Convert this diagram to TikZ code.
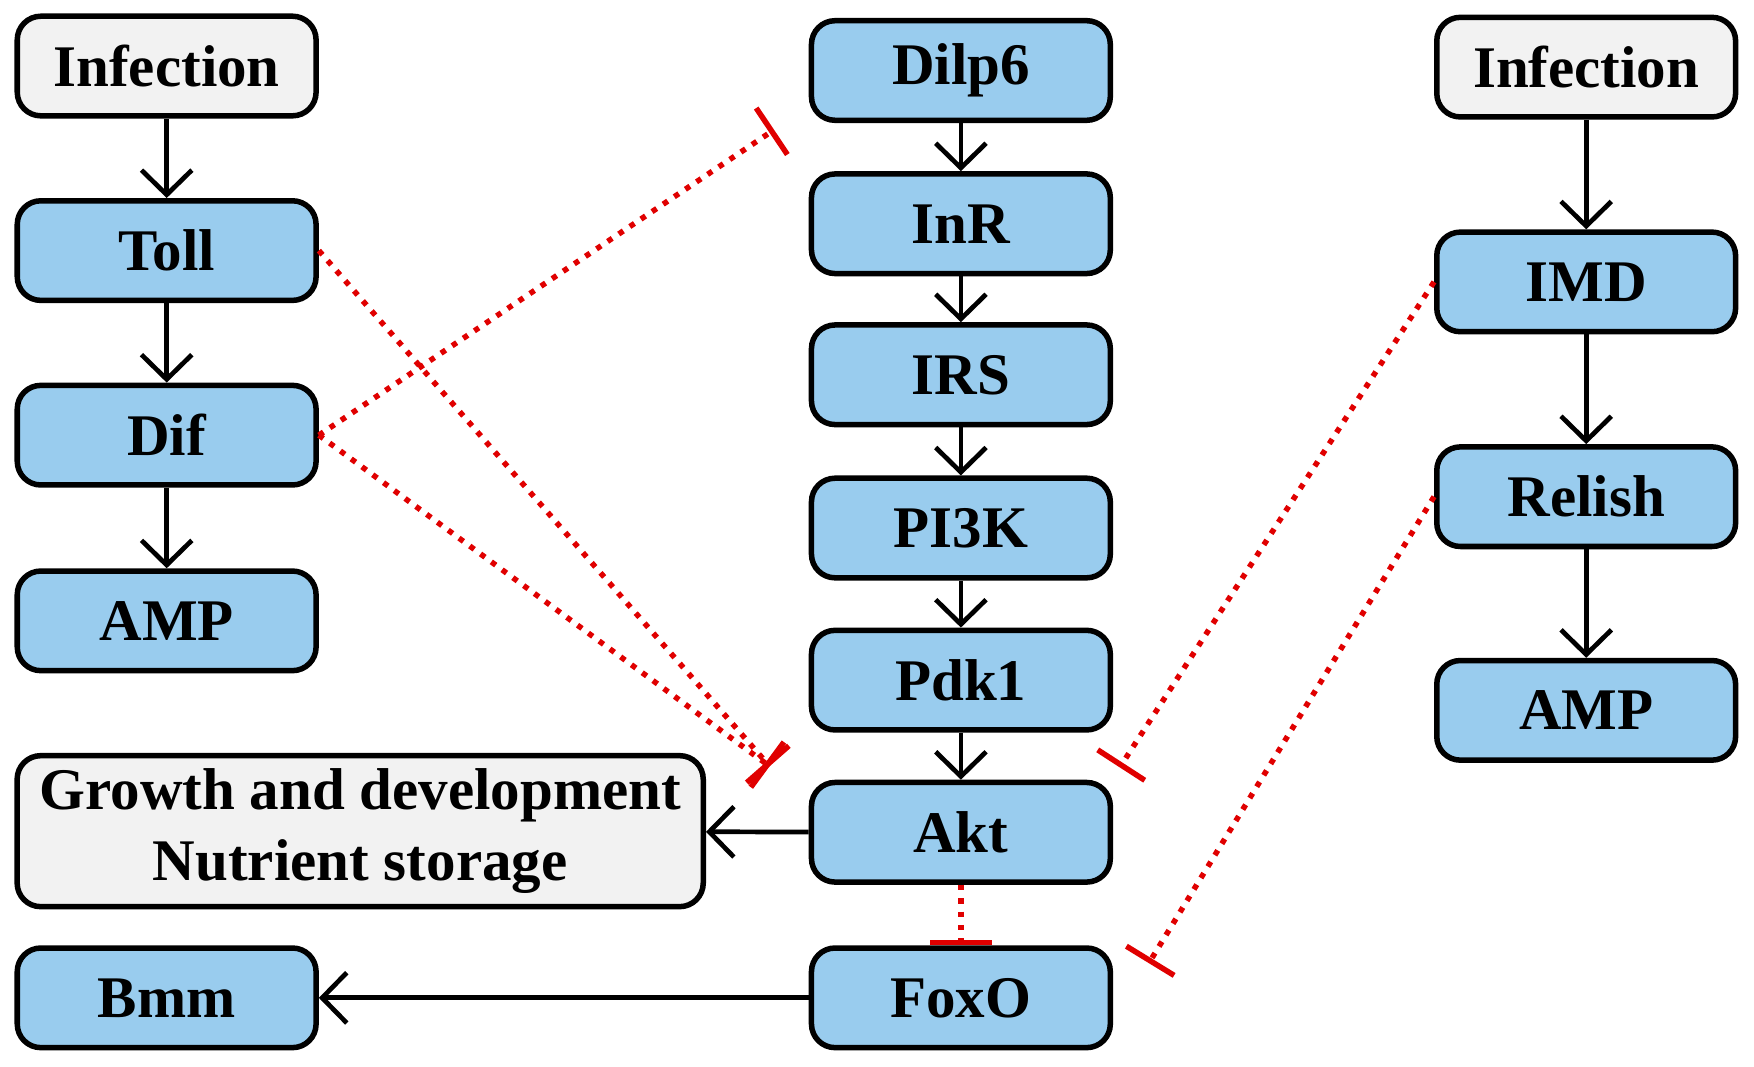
\documentclass[tikz,border=0pt]{standalone}
\usepackage{fontspec}
\setmainfont{Liberation Serif}
\usetikzlibrary{arrows.meta,positioning}
\definecolor{boxblue}{RGB}{153,204,238}
\definecolor{boxgray}{RGB}{242,242,242}
\definecolor{inhred}{RGB}{224,0,0}
\begin{document}
\begin{tikzpicture}[x=0.01cm,y=-0.01cm,
    box/.style={draw, line width=1.4pt, rounded corners=6pt, fill=boxblue,
        minimum width=2.67cm, minimum height=0.89cm, font=\bfseries\fontsize{15}{18}\selectfont, align=center},
    gbox/.style={box, fill=boxgray},
    act/.style={-{Straight Barb[length=2.2mm,width=4.5mm]}, line width=1.2pt},
    inh/.style={-{Bar[width=5mm,line width=1.4pt]}, inhred, dotted, line width=1.4pt}]
    \useasboundingbox (0,0) rectangle (1568,953);
    % left column
    \node [gbox] (inf1) at (149,59) {Infection};
    \node [box] (toll) at (149,224) {Toll};
    \node [box] (dif) at (149,389) {Dif};
    \node [box] (amp1) at (149,555) {AMP};
    % middle column
    \node [box] (dilp) at (859,63) {Dilp6};
    \node [box] (inr) at (859,200) {InR};
    \node [box] (irs) at (859,335) {IRS};
    \node [box] (pik) at (859,472) {PI3K};
    \node [box] (pdk) at (859,608) {Pdk1};
    \node [box] (akt) at (859,744) {Akt};
    \node [box] (foxo) at (859,892) {FoxO};
    % right column
    \node [gbox] (inf2) at (1418,60) {Infection};
    \node [box] (imd) at (1418,252) {IMD};
    \node [box] (rel) at (1418,444) {Relish};
    \node [box] (amp2) at (1418,635) {AMP};
    % outputs
    \node [gbox, minimum width=6.13cm, minimum height=1.26cm] (grow) at (322,743) {Growth and development\\Nutrient storage};
    \node [box] (bmm) at (149,892) {Bmm};

    \draw [act] (inf1) -- (toll);
    \draw [act] (toll) -- (dif);
    \draw [act] (dif) -- (amp1);
    \draw [act] (dilp) -- (inr);
    \draw [act] (inr) -- (irs);
    \draw [act] (irs) -- (pik);
    \draw [act] (pik) -- (pdk);
    \draw [act] (pdk) -- (akt);
    \draw [act] (inf2) -- (imd);
    \draw [act] (imd) -- (rel);
    \draw [act] (rel) -- (amp2);
    \draw [act] (akt) -- (grow);
    \draw [act] (foxo) -- (bmm);

    \coordinate (dilpbar) at (692,116);
    \coordinate (aktbar) at (688,685);
    \coordinate (imdbar) at (1001,686);
    \coordinate (foxbar) at (1027,861);
    \draw [inh] (dif.east) -- (dilpbar);
    \draw [inh] (toll.east) -- (aktbar);
    \draw [inh] (dif.east) -- (aktbar);
    \draw [inh] (imd.west) -- (imdbar);
    \draw [inh] (rel.west) -- (foxbar);
    \draw [inh, -{Bar[width=5.5mm,line width=1.4pt]}] (akt.south) -- (foxo.north);
\end{tikzpicture}
\end{document}
